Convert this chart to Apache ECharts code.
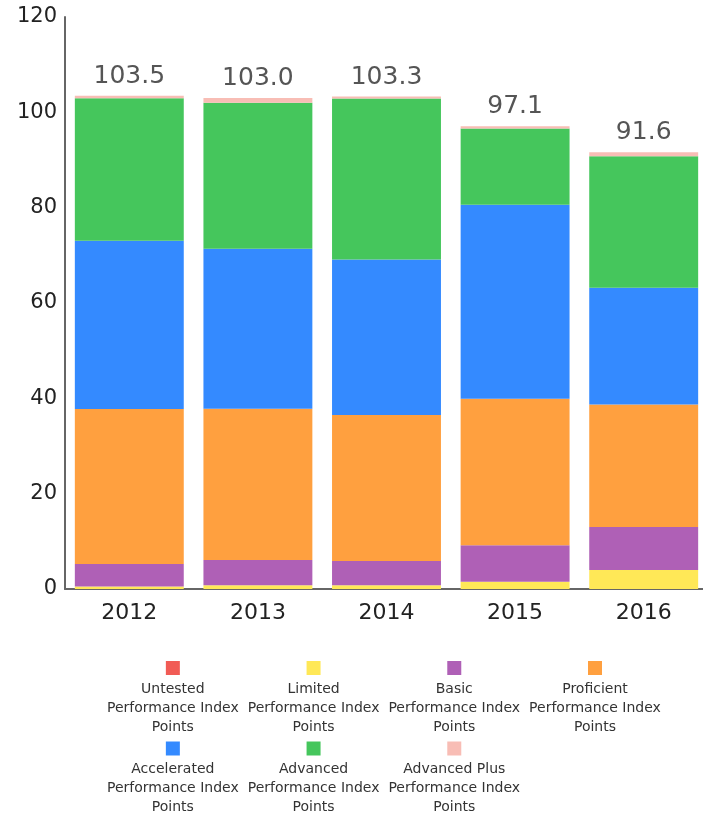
<!DOCTYPE html>
<html>
<head>
<meta charset="utf-8">
<script src="https://cdn.jsdelivr.net/npm/echarts@6/dist/echarts.min.js"></script>
<style>html,body{margin:0;padding:0;background:#fff}#c{width:703px;height:814px}</style>
</head>
<body>
<div id="c"></div>
<script>
const categories = ['2012', '2013', '2014', '2015', '2016'];
const untested = [0, 0, 0, 0, 0];
const limited = [0.5, 0.8, 0.8, 1.5, 4.0];
const basic = [4.75, 5.3, 5.1, 7.7, 9.0];
const proficient = [32.5, 31.7, 30.6, 30.7, 25.7];
const accelerated = [35.3, 33.6, 32.6, 40.7, 24.5];
const advanced = [29.9, 30.6, 33.8, 16.0, 27.6];
const advancedPlus = [0.55, 1.0, 0.4, 0.5, 0.8];
const totals = ['103.5', '103.0', '103.3', '97.1', '91.6'];
const seriesNames = [
  'Untested Performance Index Points',
  'Limited Performance Index Points',
  'Basic Performance Index Points',
  'Proficient Performance Index Points',
  'Accelerated Performance Index Points',
  'Advanced Performance Index Points',
  'Advanced Plus Performance Index Points'
];
const seriesData = [untested, limited, basic, proficient, accelerated, advanced, advancedPlus];
const colors = ['#f15b55', '#ffe857', '#af60b6', '#ffa03f', '#348aff', '#45c65c', '#f8bdb5'];

const FONT = 'DejaVu Sans';
const rich = {
  t: { fontFamily: FONT, fontSize: 14, color: '#333', lineHeight: 19, align: 'center' },
  g: { fontSize: 1, lineHeight: 1, height: 1, align: 'center' }
};
colors.forEach((c, i) => {
  rich['s' + i] = { backgroundColor: c, width: 14, height: 14, lineHeight: 23, align: 'center' };
});

const series = seriesData.map((d, i) => {
  const s = {
    name: seriesNames[i],
    type: 'bar',
    stack: 'total',
    data: d,
    barCategoryGap: '15.3%',
    itemStyle: { color: colors[i] },
    emphasis: { disabled: true }
  };
  if (i === seriesData.length - 1) {
    s.label = {
      show: true,
      position: 'top',
      distance: 7,
      fontFamily: FONT,
      fontSize: 25,
      color: '#555',
      formatter: p => totals[p.dataIndex]
    };
  }
  return s;
});

const chart = echarts.init(document.getElementById('c'), null, { renderer: 'canvas' });
chart.setOption({
  animation: false,
  color: colors,
  grid: { left: 65, width: 643, top: 17, bottom: 225, containLabel: false, outerBoundsMode: 'none' },
  xAxis: {
    type: 'category',
    data: categories,
    axisLine: { lineStyle: { color: '#666', width: 2 } },
    axisTick: { show: false },
    axisLabel: { fontFamily: FONT, fontSize: 22, color: '#222', margin: 13 }
  },
  yAxis: {
    type: 'value',
    min: 0, max: 120, interval: 20,
    axisLine: { show: true, lineStyle: { color: '#666', width: 2 } },
    axisTick: { show: false },
    splitLine: { show: false },
    axisLabel: { fontFamily: FONT, fontSize: 21, color: '#222', margin: 8 }
  },
  legend: {
    left: 102,
    top: 661,
    width: 580,
    orient: 'horizontal',
    itemWidth: 0,
    itemHeight: 0,
    itemGap: 4,
    icon: 'rect',
    padding: 0,
    data: seriesNames,
    textStyle: { fontFamily: FONT, fontSize: 14, color: '#333', rich: rich },
    formatter: name => {
      const i = seriesNames.indexOf(name);
      const idx = name.indexOf(' Performance');
      const first = name.slice(0, idx);
      return '{s' + i + '|}\n{t|' + first + '}\n{t|Performance Index}\n{t|Points}\n{g|}';
    }
  },
  series: series
});
</script>
</body>
</html>
